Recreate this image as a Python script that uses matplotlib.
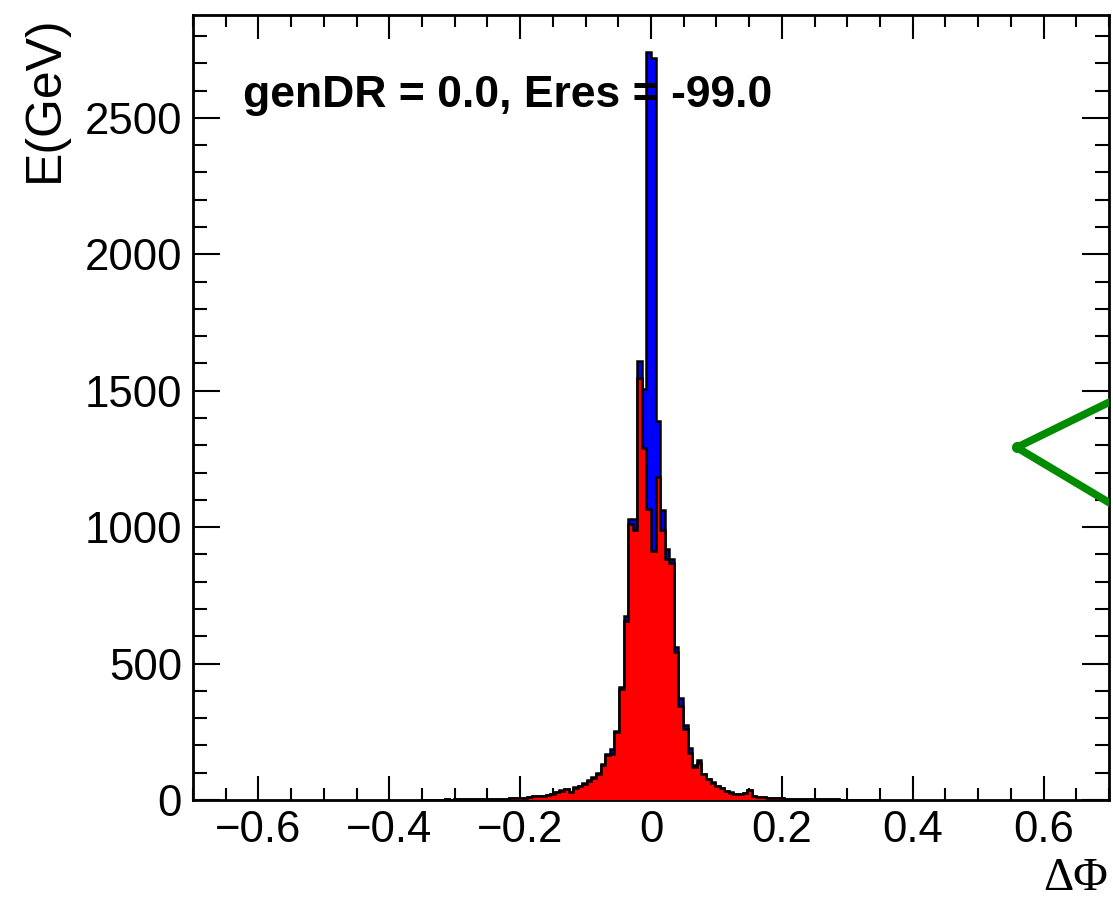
import numpy as np
import matplotlib
matplotlib.use("Agg")
import matplotlib.pyplot as plt
from matplotlib.ticker import MultipleLocator, FuncFormatter

# ---- data (bins of width 0.007 from -0.35 to 0.35) ----
bin_lo, bin_hi, n_bins = -0.35, 0.35, 100

red_counts = [1, 1, 1, 1, 1, 2, 1, 2, 2, 2,
              2, 3, 3, 3, 3, 4, 4, 5, 5,
              6, 7, 8, 9,
              12, 14, 15, 16, 17, 22,
              28, 34, 39, 28, 45, 52, 60, 70, 82, 97, 130, 165, 170, 248, 405,
              655, 1012, 990, 1547, 1289, 1066,
              913, 1185, 990, 882, 868, 542, 343, 259, 173, 121,
              134, 95, 76, 64, 50, 43, 33, 27, 23, 21,
              24, 35, 14, 12, 10, 9, 7, 6, 6, 5,
              5, 4, 4, 4, 3, 3, 3, 3, 2, 2,
              2, 1, 1, 1, 1, 1, 1, 1, 0, 1]

blue_counts = [1, 1, 1, 1, 1, 2, 1, 2, 2, 2,
               2, 3, 3, 3, 3, 4, 4, 5, 5,
               6, 7, 8, 9,
               12, 14, 15, 16, 18, 23,
               29, 35, 40, 29, 46, 53, 62, 72, 84, 100, 133, 168, 188, 252, 415,
               674, 1030, 1030, 1610, 1505, 2740,
               2720, 1388, 1063, 920, 884, 560, 372, 274, 190, 128,
               146, 97, 78, 66, 51, 44, 34, 28, 23, 21,
               25, 36, 14, 12, 10, 9, 7, 6, 6, 5,
               5, 4, 4, 4, 3, 3, 3, 3, 2, 2,
               2, 1, 1, 1, 1, 1, 1, 1, 0, 1]

graph_x = [0.80, 0.559, 0.80]
graph_y = [1575, 1292, 947]

annotation = "genDR = 0.0, Eres = -99.0"
x_title = "ΔΦ"
y_title = "E(GeV)"
x_range = (-0.7, 0.7)
y_range = (0, 2877)

# ---- figure ----
plt.rcParams['font.family'] = ['Liberation Sans', 'DejaVu Sans']
W, H, DPI = 1113, 905, 100
fig = plt.figure(figsize=(W / DPI, H / DPI), dpi=DPI)
ax = fig.add_axes([193 / W, 1 - 800 / H, (1109 - 193) / W, (800 - 15) / H])

edges = np.linspace(bin_lo, bin_hi, n_bins + 1)
ax.stairs(blue_counts, edges, fill=True, facecolor='#0000ff', edgecolor='black',
          linewidth=1.8, zorder=2)
ax.stairs(red_counts, edges, fill=True, facecolor='#ff0000', edgecolor='black',
          linewidth=1.8, zorder=3)

ax.plot(graph_x, graph_y, color='#008c00', linewidth=5.5, marker='o', markersize=7,
        markevery=[1], zorder=4, solid_capstyle='round', solid_joinstyle='round')

ax.set_xlim(*x_range)
ax.set_ylim(*y_range)

ax.xaxis.set_major_locator(MultipleLocator(0.2))
ax.xaxis.set_minor_locator(MultipleLocator(0.05))
ax.yaxis.set_major_locator(MultipleLocator(500))
ax.yaxis.set_minor_locator(MultipleLocator(100))


def fmt_x(v, pos):
    if abs(v) < 1e-9:
        return "0"
    return ("%.1f" % v).replace("-", "\u2212")


ax.xaxis.set_major_formatter(FuncFormatter(fmt_x))

px = 72 / DPI
ax.tick_params(axis='x', which='major', direction='in', length=24 * px, width=1.5,
               top=True, labelsize=31.5, pad=7)
ax.tick_params(axis='x', which='minor', direction='in', length=12 * px, width=1.5, top=True)
ax.tick_params(axis='y', which='major', direction='in', length=27 * px, width=1.5,
               right=True, labelsize=31.5, pad=8)
ax.tick_params(axis='y', which='minor', direction='in', length=14 * px, width=1.5, right=True)

for s in ax.spines.values():
    s.set_linewidth(2)

ax.text(0.055, 0.898, annotation, transform=ax.transAxes, fontsize=32,
        fontweight='bold', ha='left', va='center', zorder=6)

fig.text(1108 / W, 1 - 900 / H, x_title, fontsize=34, ha='right', va='bottom',
         family=['Liberation Serif', 'DejaVu Serif'])
fig.text(45 / W, 1 - 15 / H, y_title, fontsize=36, rotation=90, ha='center', va='top')

fig.savefig("out.png", dpi=DPI)
